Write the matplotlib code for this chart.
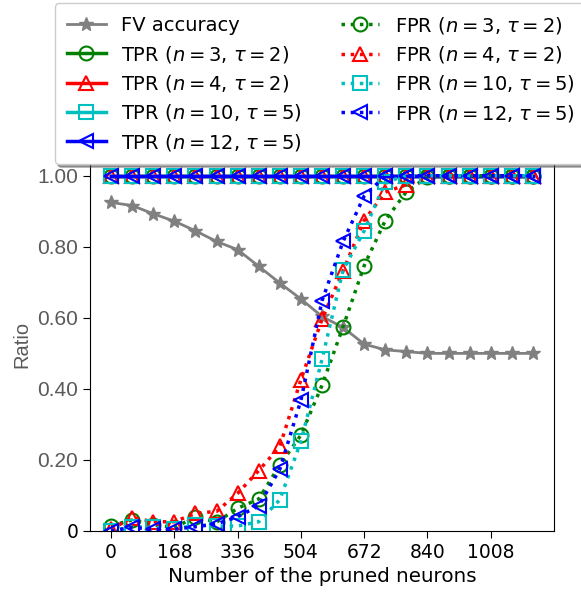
import numpy as np
import matplotlib
matplotlib.use("Agg")
import matplotlib.pyplot as plt

# pruned neurons, step of 56
pruned = np.arange(0, 1121, 56)

fv_acc = [0.925, 0.916, 0.893, 0.872, 0.845, 0.815, 0.792, 0.745, 0.698, 0.653,
          0.604, 0.573, 0.526, 0.510, 0.505, 0.500, 0.500, 0.500, 0.500, 0.500, 0.500]

tpr_n3 = [1.0] * 21
tpr_n4 = [1.0] * 21
tpr_n10 = [1.0] * 21
tpr_n12 = [1.0] * 21

fpr_n3 = [0.015, 0.031, 0.017, 0.010, 0.039, 0.025, 0.064, 0.090, 0.186, 0.270,
          0.410, 0.575, 0.747, 0.874, 0.955, 0.997, 1.0, 1.0, 1.0, 1.0, 1.0]
fpr_n4 = [0.005, 0.038, 0.026, 0.026, 0.050, 0.055, 0.106, 0.170, 0.238, 0.426,
          0.596, 0.733, 0.874, 0.954, 0.975, 1.0, 1.0, 1.0, 1.0, 1.0, 1.0]
fpr_n10 = [0.0, 0.012, 0.010, 0.005, 0.017, 0.014, 0.014, 0.026, 0.088, 0.252,
           0.483, 0.735, 0.845, 0.982, 1.0, 1.0, 1.0, 1.0, 1.0, 1.0, 1.0]
fpr_n12 = [0.0, 0.010, 0.005, 0.005, 0.012, 0.020, 0.040, 0.071, 0.174, 0.368,
           0.648, 0.815, 0.943, 1.0, 1.0, 1.0, 1.0, 1.0, 1.0, 1.0, 1.0]

xticks = [0, 168, 336, 504, 672, 840, 1008]
yticks = [0, 0.2, 0.4, 0.6, 0.8, 1.0]
ytick_labels = ['0', '0.20', '0.40', '0.60', '0.80', '1.00']

fig = plt.figure(figsize=(5.81, 5.95), dpi=100)
ax = fig.add_axes([90 / 581, 64 / 595, 464 / 581, 373 / 595])

mk = dict(markersize=10, markerfacecolor='none', markeredgewidth=1.5)

ax.plot(pruned, fv_acc, '-*', color='gray', lw=2, markersize=10, label='FV accuracy')

ax.plot(pruned, tpr_n3, '-o', color='green', lw=2.5, label=r'TPR ($n=3$, $\tau=2$)', **mk)
ax.plot(pruned, tpr_n4, '-^', color='red', lw=2.5, label=r'TPR ($n=4$, $\tau=2$)', **mk)
ax.plot(pruned, tpr_n10, '-s', color='c', lw=2.5, label=r'TPR ($n=10$, $\tau=5$)', **mk)
ax.plot(pruned, tpr_n12, '-<', color='blue', lw=2.5, label=r'TPR ($n=12$, $\tau=5$)', **mk)

ax.plot(pruned, fpr_n3, ':o', color='green', lw=2.5, label=r'FPR ($n=3$, $\tau=2$)', **mk)
ax.plot(pruned, fpr_n4, ':^', color='red', lw=2.5, label=r'FPR ($n=4$, $\tau=2$)', **mk)
ax.plot(pruned, fpr_n10, ':s', color='c', lw=2.5, label=r'FPR ($n=10$, $\tau=5$)', **mk)
ax.plot(pruned, fpr_n12, ':<', color='blue', lw=2.5, label=r'FPR ($n=12$, $\tau=5$)', **mk)

ax.set_xlim(-56, 1176)
ax.set_ylim(0, 1.05)
ax.set_xticks(xticks)
ax.set_xticklabels([str(t) for t in xticks], fontsize=13.5)
ax.set_yticks(yticks)
ax.set_yticklabels(ytick_labels, fontsize=13.5)
for i, lab in enumerate(ax.get_yticklabels()):
    if i > 0:
        lab.set_color('#5a5a5a')
        lab.set_family('Liberation Sans')
        lab.set_fontsize(15)
ax.tick_params(length=5)

ax.set_xlabel('Number of the pruned neurons', fontsize=14.3)
ax.set_ylabel('Ratio', fontsize=14.5, color='#5a5a5a', family='Liberation Sans')

handles, labels = ax.get_legend_handles_labels()
fig.legend(handles, labels, ncol=2, loc='upper left',
           bbox_to_anchor=(55 / 581, 1 - 3 / 595), borderaxespad=0,
           fontsize=14, labelspacing=0.43, borderpad=0.6,
           shadow=True, framealpha=1)

plt.savefig('out.png', dpi=100)
